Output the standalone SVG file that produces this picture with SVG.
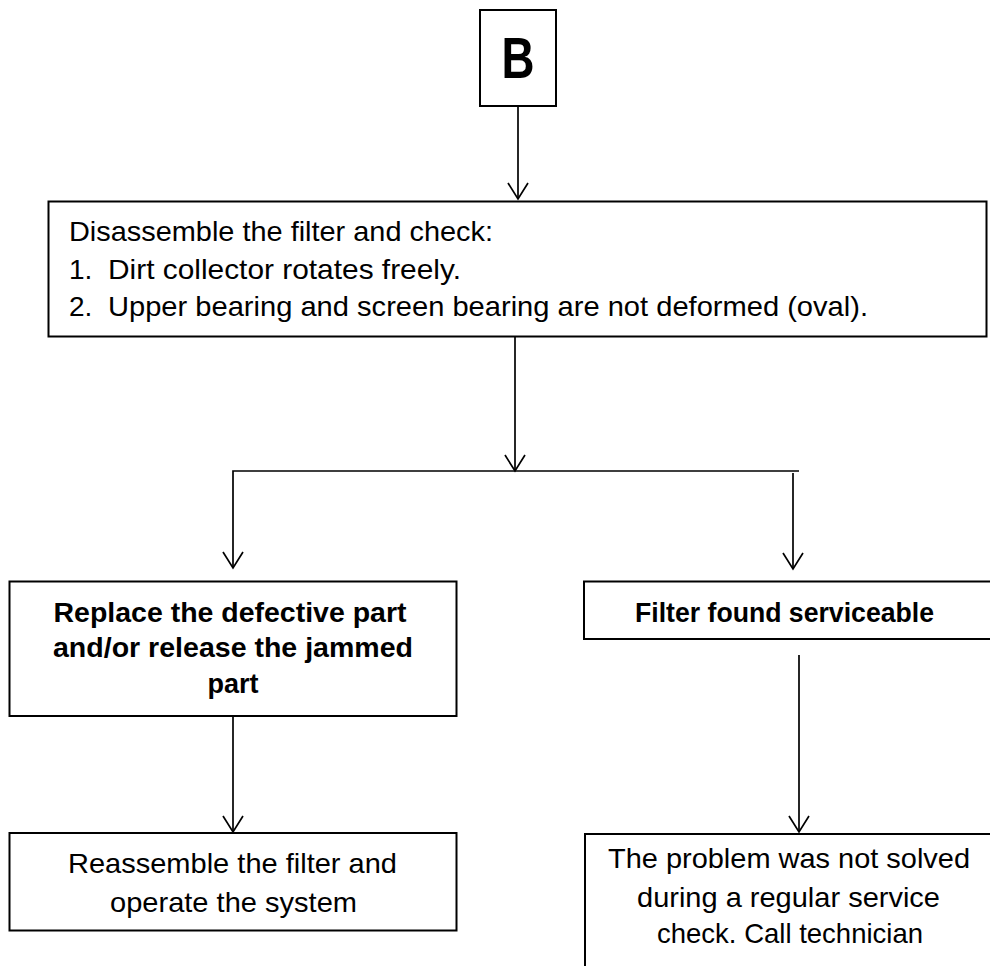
<svg xmlns="http://www.w3.org/2000/svg" width="990" height="966" viewBox="0 0 990 966">
<defs>
<style>
.box{fill:#fff;stroke:#000;stroke-width:2}
.con{fill:none;stroke:#000;stroke-width:1.7}
.t{font-family:"Liberation Sans",Arial,sans-serif;font-size:28px;fill:#000}
.b{font-family:"Liberation Sans",Arial,sans-serif;font-size:27px;font-weight:bold;fill:#000}
.c{text-anchor:middle}
</style>
<marker id="arr" markerUnits="userSpaceOnUse" markerWidth="20" markerHeight="24" refX="0" refY="0" orient="auto" overflow="visible">
<path d="M-16,-10 L0,0 L-16,10" fill="none" stroke="#000" stroke-width="1.7"/>
</marker>
</defs>
<rect width="990" height="966" fill="#fff"/>
<g id="connectors">
<path class="con" d="M518,106 V199" marker-end="url(#arr)"/>
<path class="con" d="M515,337 V471" marker-end="url(#arr)"/>
<path class="con" d="M799,471 H233 V568" marker-end="url(#arr)"/>
<path class="con" d="M793,473 V569" marker-end="url(#arr)"/>
<path class="con" d="M233,716 V832" marker-end="url(#arr)"/>
<path class="con" d="M799,655 V832" marker-end="url(#arr)"/>
</g>
<g id="nodeB">
<rect class="box" x="480" y="10" width="76" height="96"/>
<text x="518" y="78" class="c" font-family="Liberation Sans, Arial, sans-serif" font-size="57" font-weight="bold" textLength="33" lengthAdjust="spacingAndGlyphs">B</text>
</g>
<g id="nodeCheck">
<rect class="box" x="48.5" y="201.5" width="938" height="135"/>
<text class="t" x="69" y="241" textLength="424" lengthAdjust="spacingAndGlyphs">Disassemble the filter and check:</text>
<text class="t" x="69" y="279">1.</text>
<text class="t" x="108" y="279" textLength="353" lengthAdjust="spacingAndGlyphs">Dirt collector rotates freely.</text>
<text class="t" x="69" y="316">2.</text>
<text class="t" x="108" y="316" textLength="760" lengthAdjust="spacingAndGlyphs">Upper bearing and screen bearing are not deformed (oval).</text>
</g>
<g id="nodeReplace">
<rect class="box" x="9.5" y="581.5" width="447" height="134.5"/>
<text class="b c" x="230" y="622" textLength="353" lengthAdjust="spacingAndGlyphs">Replace the defective part</text>
<text class="b c" x="233" y="657" textLength="360" lengthAdjust="spacingAndGlyphs">and/or release the jammed</text>
<text class="b c" x="233" y="693">part</text>
</g>
<g id="nodeServiceable">
<rect class="box" x="584" y="581.5" width="420" height="57.5"/>
<text class="b c" x="784.5" y="622" textLength="299" lengthAdjust="spacingAndGlyphs">Filter found serviceable</text>
</g>
<g id="nodeReassemble">
<rect class="box" x="9.5" y="833" width="447" height="97.5"/>
<text class="t c" x="232.5" y="873" textLength="329" lengthAdjust="spacingAndGlyphs">Reassemble the filter and</text>
<text class="t c" x="233.5" y="912" textLength="247" lengthAdjust="spacingAndGlyphs">operate the system</text>
</g>
<g id="nodeTechnician">
<rect class="box" x="585" y="834" width="420" height="160"/>
<text class="t c" x="789" y="868" textLength="362" lengthAdjust="spacingAndGlyphs">The problem was not solved</text>
<text class="t c" x="788.5" y="907" textLength="303" lengthAdjust="spacingAndGlyphs">during a regular service</text>
<text class="t c" x="790" y="943" textLength="266" lengthAdjust="spacingAndGlyphs">check. Call technician</text>
</g>
</svg>
